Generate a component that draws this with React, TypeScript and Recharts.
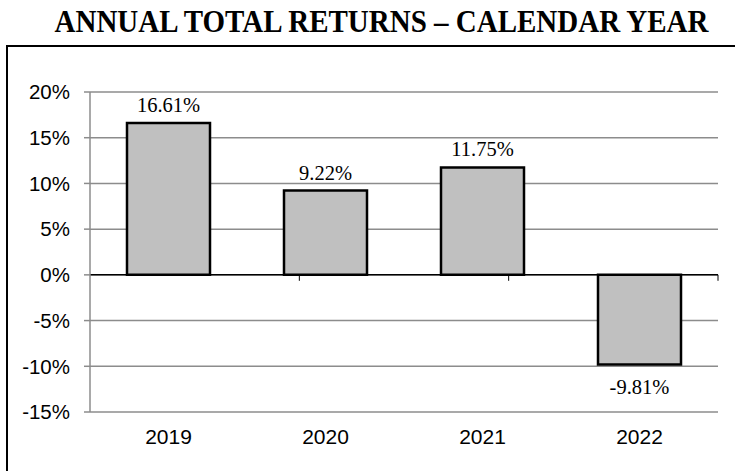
import React from "react";
import {
  BarChart,
  Bar,
  XAxis,
  YAxis,
  CartesianGrid,
  ReferenceLine,
  LabelList,
} from "recharts";

const years = ["2019", "2020", "2021", "2022"];
const returns = [16.61, 9.22, 11.75, -9.81];
const yTicks = [-15, -10, -5, 0, 5, 10, 15, 20];
// category boundaries on the zero line, in slot units
const slotEdges = [1, 2, 3, 4];

const data = years.map((year, i) => ({ year, value: returns[i] }));

const SANS = "Arial, 'Liberation Sans', sans-serif";
const SERIF = "'Times New Roman', 'Liberation Serif', serif";

function ValueLabel(props: any) {
  const { x, y, width, height, value } = props;
  const top = Math.min(y, y + height);
  const bottom = Math.max(y, y + height);
  const cx = x + width / 2;
  const ty = value >= 0 ? top - 11 : bottom + 29;
  return (
    <text
      x={cx}
      y={ty}
      textAnchor="middle"
      fontFamily={SERIF}
      fontSize={20.5}
      fill="#000"
    >
      {value.toFixed(2)}%
    </text>
  );
}

export default function App() {
  return (
    <div
      style={{
        position: "absolute",
        left: 0,
        top: 0,
        width: 735,
        height: 471,
        background: "#fff",
        overflow: "hidden",
      }}
    >
      <div
        style={{
          position: "absolute",
          left: 14,
          top: 1,
          width: 735,
          textAlign: "center",
          fontFamily: SERIF,
          fontWeight: "bold",
          fontSize: 29,
          lineHeight: "36px",
          color: "#000",
          transform: "scaleY(1.1)",
          transformOrigin: "center top",
        }}
      >
        ANNUAL TOTAL RETURNS – CALENDAR YEAR
      </div>
      {/* frame: only left and top edges show inside the picture */}
      <div
        style={{
          position: "absolute",
          left: 6,
          top: 45,
          width: 760,
          height: 460,
          borderLeft: "2px solid #000",
          borderTop: "2px solid #000",
        }}
      />
      <div style={{ position: "absolute", left: 0, top: 0 }}>
        <BarChart
          width={735}
          height={471}
          data={data}
          margin={{ top: 92, right: 17, bottom: 0, left: 0 }}
          barSize={83}
        >
          <CartesianGrid vertical={false} stroke="#8c8c8c" strokeWidth={1.5} />
          <XAxis
            dataKey="year"
            height={59}
            axisLine={false}
            tickLine={false}
            tickSize={0}
            tickMargin={17}
            tick={{ fill: "#000", fontSize: 21, fontFamily: SANS }}
          />
          <XAxis xAxisId="num" type="number" domain={[0, 4]} hide />
          <YAxis
            width={90}
            domain={[-15, 20]}
            ticks={yTicks}
            interval={0}
            tickFormatter={(v) => `${v}%`}
            axisLine={{ stroke: "#8c8c8c", strokeWidth: 1.5 }}
            tickLine={{ stroke: "#8c8c8c", strokeWidth: 1.5 }}
            tickSize={6}
            tickMargin={14}
            tick={{ fill: "#000", fontSize: 20.5, fontFamily: SANS }}
          />
          <ReferenceLine y={0} stroke="#000" strokeWidth={1.5} />
          {slotEdges.map((e) => (
            <ReferenceLine
              key={e}
              xAxisId="num"
              segment={[
                { x: e, y: 0 },
                { x: e, y: -0.65 },
              ]}
              stroke="#000"
              strokeWidth={1}
            />
          ))}
          <Bar
            dataKey="value"
            fill="#c0c0c0"
            stroke="#000"
            strokeWidth={2.5}
            isAnimationActive={false}
          >
            <LabelList dataKey="value" content={ValueLabel} />
          </Bar>
        </BarChart>
      </div>
    </div>
  );
}
